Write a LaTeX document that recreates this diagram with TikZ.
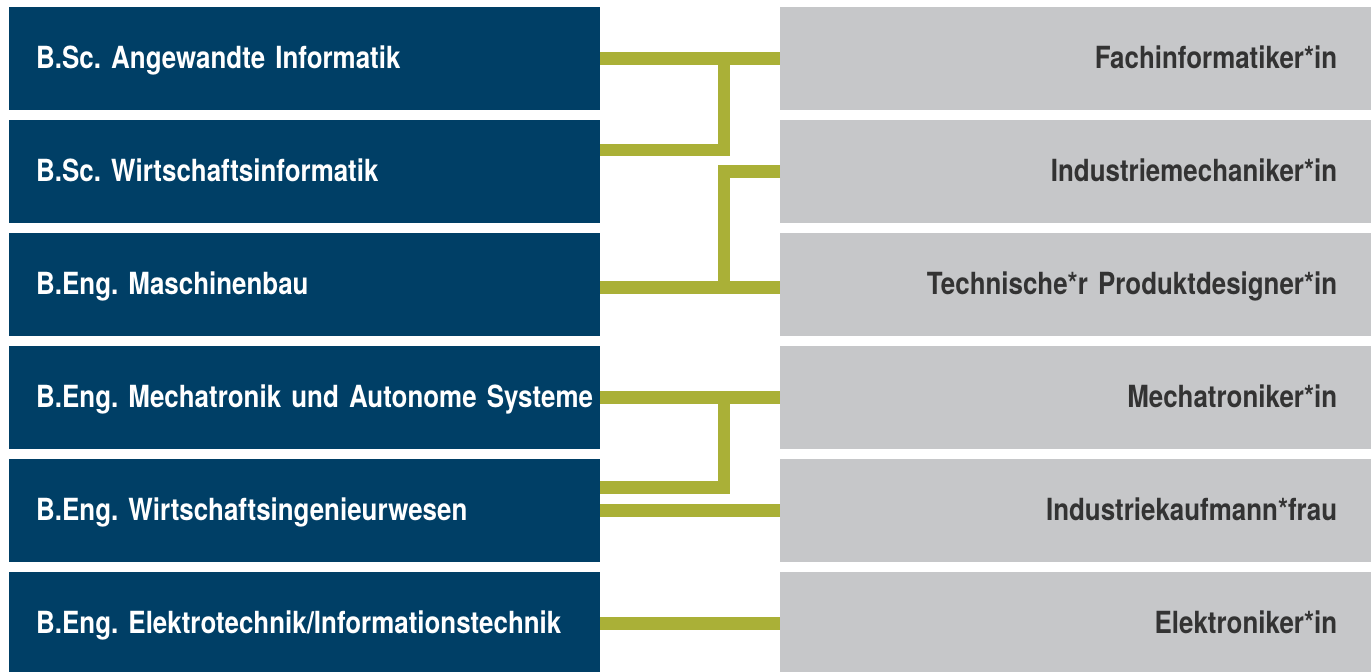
\documentclass[tikz,border=0pt]{standalone}
\usepackage{fontspec}
\setmainfont{TeX Gyre Heros}[FakeStretch=0.85]
\frenchspacing
\newcommand{\boxfont}{\fontsize{30.5}{36}\selectfont\bfseries\spaceskip=5pt\relax}
\definecolor{studyblue}{HTML}{003F66}
\definecolor{jobgray}{HTML}{C6C7C9}
\definecolor{jobtext}{HTML}{333333}
\definecolor{linkgreen}{HTML}{AAB037}
\tikzset{
  study/.style={fill=studyblue, text=white, anchor=north west, minimum width=591pt, minimum height=103pt,
    text width=537pt, inner xsep=27pt, align=left, text height=21pt, text depth=1pt, font=\boxfont},
  job/.style={fill=jobgray, text=jobtext, anchor=north west, minimum width=591pt, minimum height=103pt,
    text width=523pt, inner xsep=34pt, align=right, text height=21pt, text depth=1pt, font=\boxfont},
  link/.style={draw=linkgreen, line width=12.5pt}
}
\begin{document}
\begin{tikzpicture}[x=1pt, y=-1pt]
		\useasboundingbox (0,0) rectangle (1371,672);
		\node[study] (aI) at (9, 7) {B.Sc. Angewandte Informatik};
		\node[study] (wI) at (9, 120) {B.Sc. Wirtschaftsinformatik};
		\node[study] (mB) at (9, 233) {B.Eng. Maschinenbau};
		\node[study] (mA) at (9, 346) {\mbox{B.Eng. Mechatronik und Autonome Systeme}};
		\node[study] (wIng) at (9, 459) {B.Eng. Wirtschaftsingenieurwesen};
		\node[study] (eI) at (9, 572) {B.Eng. Elektrotechnik/Informationstechnik};

		\node[job] (fi) at (780, 7) {Fachinformatiker*in};
		\node[job] (im) at (780, 120) {Industriemechaniker*in};
		\node[job] (tp) at (780, 233) {Technische*r Produktdesigner*in};
		\node[job] (me) at (780, 346) {Mechatroniker*in};
		\node[job] (ik) at (780, 459) {Industriekaufmann*frau};
		\node[job] (el) at (780, 572) {Elektroniker*in};

		\coordinate (jx) at (724, 0);

		\draw[link] (aI.east) -- (fi.west);
		\draw[link] ([yshift=21.5pt]wI.east) -| (jx |- aI.east);
		\draw[link] (im.west) -| ([yshift=-3pt]jx |- mB.east);
		\draw[link] ([yshift=-3pt]mB.east) -- ([yshift=-3pt]tp.west);
		\draw[link] (mA.east) -- (me.west);
		\draw[link] ([yshift=23pt]wIng.east) -| (jx |- mA.east);
		\draw[link] (wIng.east) -- (ik.west);
		\draw[link] (eI.east) -- (el.west);
	\end{tikzpicture}
\end{document}
